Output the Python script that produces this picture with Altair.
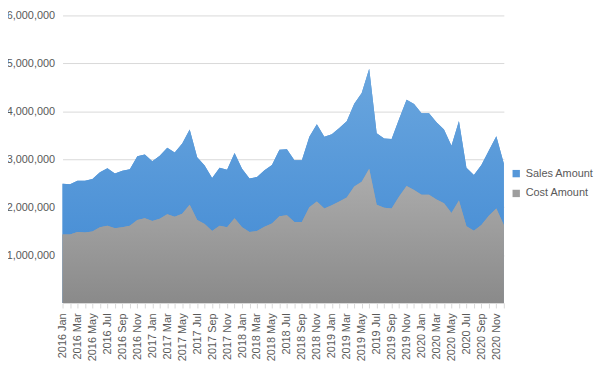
import altair as alt
import pandas as pd

years = [2016, 2017, 2018, 2019, 2020]
mons = ["Jan", "Feb", "Mar", "Apr", "May", "Jun", "Jul", "Aug", "Sep", "Oct", "Nov", "Dec"]
months = [f"{y} {m}" for y in years for m in mons]

sales = [2.49, 2.48, 2.55, 2.55, 2.59, 2.73, 2.81, 2.70, 2.76, 2.79, 3.06, 3.10,
         2.96, 3.07, 3.24, 3.14, 3.33, 3.62, 3.04, 2.87, 2.61, 2.82, 2.78, 3.13,
         2.80, 2.60, 2.63, 2.77, 2.88, 3.20, 3.21, 2.98, 2.98, 3.47, 3.73, 3.47,
         3.52, 3.65, 3.79, 4.16, 4.38, 4.89, 3.54, 3.43, 3.42, 3.84, 4.24, 4.15,
         3.96, 3.96, 3.77, 3.62, 3.28, 3.80, 2.82, 2.67, 2.88, 3.18, 3.48, 2.91]
cost = [1.43, 1.43, 1.48, 1.47, 1.49, 1.58, 1.61, 1.56, 1.58, 1.61, 1.73, 1.77,
        1.71, 1.76, 1.85, 1.80, 1.86, 2.05, 1.73, 1.65, 1.50, 1.61, 1.58, 1.77,
        1.58, 1.48, 1.50, 1.59, 1.66, 1.81, 1.83, 1.69, 1.69, 2.00, 2.12, 1.97,
        2.04, 2.12, 2.20, 2.43, 2.53, 2.80, 2.05, 1.99, 1.97, 2.22, 2.44, 2.36,
        2.26, 2.26, 2.16, 2.08, 1.88, 2.14, 1.60, 1.51, 1.63, 1.82, 1.97, 1.63]

series_names = ["Sales Amount", "Cost Amount"]
series_colors = ["#5597D9", "#9E9E9E"]
y_ticks = [1000000, 2000000, 3000000, 4000000, 5000000, 6000000]

df = pd.concat([
    pd.DataFrame({"month": months, "value": [v * 1e6 for v in sales], "series": series_names[0]}),
    pd.DataFrame({"month": months, "value": [v * 1e6 for v in cost], "series": series_names[1]}),
])

label_font = "Liberation Sans"
txt = "#595959"
grid = "#D9D9D9"

x = alt.X(
    "month:N", sort=months, title=None,
    scale=alt.Scale(type="point", padding=0),
    axis=alt.Axis(
        labelAngle=-90, labelFontSize=11, labelFont=label_font, labelColor=txt,
        labelExpr="indexof(['Jan','Mar','May','Jul','Sep','Nov'], slice(datum.value, 5)) >= 0 ? datum.value : ''",
        labelPadding=5, tickColor=grid, tickSize=5, domainColor=grid, grid=False,
        labelOverlap=False,
    ),
)
y = alt.Y(
    "value:Q", title=None, stack=None,
    scale=alt.Scale(domain=[0, 6000000], nice=False),
    axis=alt.Axis(
        values=y_ticks,
        labelExpr="format(datum.value, ',.0f')",
        labelFontSize=11, labelFont=label_font, labelColor=txt,
        domain=False, ticks=False, labelPadding=8, gridColor=grid,
    ),
)

color = alt.Color(
    "series:N", title=None,
    scale=alt.Scale(domain=series_names, range=series_colors),
    legend=alt.Legend(
        orient="none", legendX=452, legendY=154, symbolType="square", symbolSize=55,
        labelFontSize=11, labelFont=label_font, labelColor=txt, rowPadding=8,
        symbolStrokeWidth=0,
    ),
)

def grad(top, bottom):
    return alt.Gradient(
        gradient="linear", x1=1, x2=1, y1=0, y2=1,
        stops=[alt.GradientStop(color=top, offset=0), alt.GradientStop(color=bottom, offset=1)],
    )

base = alt.Chart(df)
sales_solid = base.transform_filter(alt.datum.series == series_names[0]).mark_area().encode(x=x, y=y, color=color)
sales_grad = base.transform_filter(alt.datum.series == series_names[0]).mark_area(
    color=grad("#6AA6DE", "#3F88D3")).encode(x=x, y=y)
cost_solid = base.transform_filter(alt.datum.series == series_names[1]).mark_area().encode(x=x, y=y, color=color)
cost_grad = base.transform_filter(alt.datum.series == series_names[1]).mark_area(
    color=grad("#ADADAD", "#8A8A8A")).encode(x=x, y=y)

chart = alt.layer(sales_solid, sales_grad, cost_solid, cost_grad).properties(
    width=445, height=290,
    autosize=alt.AutoSizeParams(type="none"),
    padding={"left": 55, "top": 6, "right": 98, "bottom": 60},
    background="white",
).configure_view(stroke=None)

chart.save("out.html", embed_options={"renderer": "svg", "actions": False})
